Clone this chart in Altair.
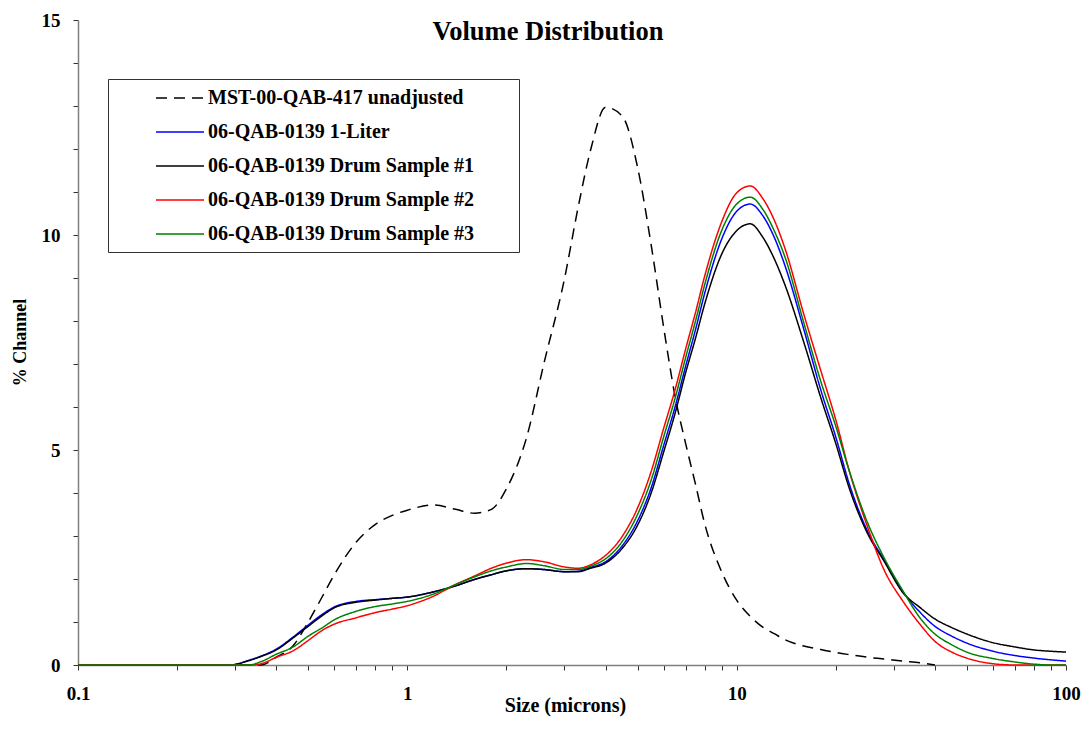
import altair as alt
import pandas as pd

# ---- data ----
sizes = [0.1, 0.2, 0.29, 0.33, 0.36, 0.4, 0.45, 0.5, 0.55, 0.6,
         0.7, 0.8, 0.9, 1.0, 1.2, 1.4, 1.6, 1.8, 2.0, 2.3,
         2.6, 3.0, 3.3, 3.6, 4.0, 4.5, 5.0, 5.5, 6.0, 6.5,
         7.0, 7.5, 8.0, 9.0, 10, 11, 12, 13, 14, 16,
         18, 20, 22, 25, 28, 32, 36, 40, 45, 50,
         60, 70, 80, 90, 100]

mst_unadjusted = [0, 0, 0, 0, 0, 0.18, 0.45, 1.0, 1.57, 2.1,
                  2.86, 3.27, 3.48, 3.6, 3.72, 3.62, 3.53, 3.62, 4.1, 5.28,
                  7.02, 8.98, 10.64, 11.97, 12.97, 12.76, 11.58, 9.77, 7.86, 6.25,
                  5.15, 4.2, 3.28, 2.17, 1.51, 1.13, 0.88, 0.73, 0.59, 0.44,
                  0.36, 0.29, 0.24, 0.18, 0.14, 0.09, 0.05, 0, None, None,
                  None, None, None, None, None]

one_liter = [0, 0, 0, 0.11, 0.21, 0.37, 0.65, 0.93, 1.17, 1.35,
             1.48, 1.52, 1.55, 1.58, 1.7, 1.84, 1.99, 2.1, 2.19, 2.24,
             2.22, 2.17, 2.18, 2.27, 2.4, 2.78, 3.35, 4.12, 5.1, 6.0,
             6.95, 7.8, 8.65, 9.9, 10.55, 10.72, 10.45, 9.95, 9.3, 7.8,
             6.4, 5.3, 4.2, 3.1, 2.45, 1.7, 1.23, 0.9, 0.67, 0.51,
             0.32, 0.22, 0.16, 0.12, 0.09]

drum_1 = [0, 0, 0, 0.1, 0.2, 0.35, 0.63, 0.9, 1.14, 1.33,
          1.46, 1.51, 1.55, 1.58, 1.7, 1.84, 1.99, 2.1, 2.19, 2.24,
          2.22, 2.17, 2.17, 2.25, 2.37, 2.72, 3.25, 4.0, 4.95, 5.85,
          6.8, 7.6, 8.4, 9.55, 10.1, 10.26, 9.95, 9.45, 8.85, 7.5,
          6.22, 5.15, 4.1, 3.05, 2.42, 1.68, 1.34, 1.07, 0.87, 0.72,
          0.52, 0.42, 0.35, 0.32, 0.3]

drum_2 = [0, 0, 0, 0, 0.03, 0.18, 0.33, 0.57, 0.8, 0.95,
          1.1, 1.22, 1.3, 1.38, 1.6, 1.87, 2.07, 2.25, 2.37, 2.45,
          2.4, 2.28, 2.25, 2.33, 2.55, 3.0, 3.65, 4.5, 5.5, 6.4,
          7.35, 8.2, 9.05, 10.3, 10.98, 11.14, 10.85, 10.35, 9.7, 8.15,
          6.85, 5.7, 4.5, 3.2, 2.22, 1.48, 0.95, 0.55, 0.3, 0.16,
          0.03, 0, 0, 0, 0]

drum_3 = [0, 0, 0, 0, 0.08, 0.25, 0.42, 0.67, 0.86, 1.05,
          1.25, 1.36, 1.42, 1.48, 1.65, 1.87, 2.05, 2.19, 2.28, 2.36,
          2.31, 2.22, 2.22, 2.3, 2.47, 2.88, 3.5, 4.3, 5.3, 6.2,
          7.15, 8.0, 8.85, 10.1, 10.72, 10.88, 10.6, 10.1, 9.5, 7.95,
          6.6, 5.55, 4.5, 3.3, 2.5, 1.72, 1.1, 0.72, 0.47, 0.3,
          0.15, 0.07, 0.02, 0, 0]

series_names = ["MST-00-QAB-417 unadjusted",
                "06-QAB-0139 1-Liter",
                "06-QAB-0139 Drum Sample #1",
                "06-QAB-0139 Drum Sample #2",
                "06-QAB-0139 Drum Sample #3"]
series_values = [mst_unadjusted, one_liter, drum_1, drum_2, drum_3]
series_colors = ["#000000", "#0000ff", "#000000", "#ff0000", "#008000"]
series_dashes = [[11, 7], [1, 0], [1, 0], [1, 0], [1, 0]]

x_tick_values = [0.1, 0.2, 0.3, 0.4, 0.5, 0.6, 0.7, 0.8, 0.9,
                 1, 2, 3, 4, 5, 6, 7, 8, 9,
                 10, 20, 30, 40, 50, 60, 70, 80, 90, 100]
x_labelled = [0.1, 1, 10, 100]
y_tick_values = list(range(0, 16))

rows = []
for name, vals in zip(series_names, series_values):
    for i, (s, v) in enumerate(zip(sizes, vals)):
        if v is not None:
            rows.append({"size": s, "pct": v, "series": name, "idx": i})
df = pd.DataFrame(rows)

FONT = "Liberation Serif"

# legend key: a 48px line; the trailing move-to widens the legend frame to the right
legend = alt.Legend(
    title=None,
    orient="none", legendX=30, legendY=59,
    symbolType="M-2.4,0H2.4M32.8,0", symbolSize=400, symbolStrokeWidth=1.5,
    symbolOffset=53, labelOffset=17,
    labelFont=FONT, labelFontWeight="bold", labelFontSize=20, labelColor="black",
    labelLimit=0,
    padding=8, rowPadding=13, strokeColor="#333333", fillColor="white",
)

chart = alt.Chart(df).mark_line(strokeWidth=1.5, interpolate="monotone").encode(
    x=alt.X("size:Q",
            scale=alt.Scale(type="log", domain=[0.1, 100], nice=False),
            axis=alt.Axis(values=x_tick_values, format="~g",
                          labelExpr="indexof(" + str(x_labelled) + ", datum.value) >= 0 ? datum.label : ''",
                          labelOverlap=False, labelFlush=False, labelPadding=14,
                          title="Size (microns)", titleX=487, titleY=40, titleFontSize=20,
                          titleBaseline="middle", titleAlign="center")),
    y=alt.Y("pct:Q",
            scale=alt.Scale(domain=[0, 15], nice=False),
            axis=alt.Axis(values=y_tick_values,
                          labelExpr="datum.value % 5 === 0 ? datum.label : ''",
                          labelOverlap=False, labelFlush=False, labelPadding=13,
                          title="% Channel", titleX=-58, titleY=322,
                          titleBaseline="middle", titleAlign="center", titleAngle=270)),
    color=alt.Color("series:N", scale=alt.Scale(domain=series_names, range=series_colors),
                    legend=legend),
    strokeDash=alt.StrokeDash("series:N", scale=alt.Scale(domain=series_names, range=series_dashes),
                              legend=legend),
    order="idx:Q",
).properties(
    width=988, height=645,
    autosize=alt.AutoSizeParams(type="none"),
    padding={"left": 78, "top": 20, "right": 18, "bottom": 55},
    title=alt.TitleParams("Volume Distribution", font=FONT, fontSize=26.5, fontWeight="bold",
                          color="black", anchor="middle", frame="group", offset=0,
                          baseline="alphabetic", dx=-24, dy=55),
).configure_axis(
    labelFont=FONT, labelFontWeight="bold", labelFontSize=19, labelColor="black",
    titleFont=FONT, titleFontWeight="bold", titleFontSize=18, titleColor="black",
    grid=False, domainColor="#808080", domainWidth=1.5, tickColor="#333333", tickSize=5,
).configure_view(stroke=None)

chart.save("out.html", embed_options={"renderer": "svg", "actions": False})
